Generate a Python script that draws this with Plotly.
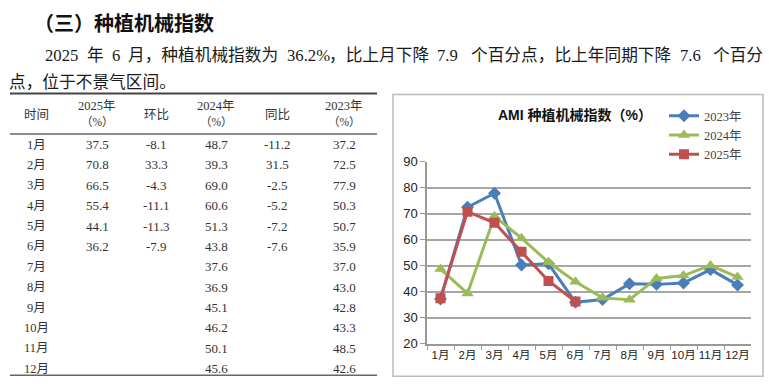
import plotly.graph_objects as go

# ---------------- data ----------------
months = ["1月", "2月", "3月", "4月", "5月", "6月", "7月", "8月", "9月", "10月", "11月", "12月"]
v2025 = [37.5, 70.8, 66.5, 55.4, 44.1, 36.2]
hb2025 = [-8.1, 33.3, -4.3, -11.1, -11.3, -7.9]
v2024 = [48.7, 39.3, 69.0, 60.6, 51.3, 43.8, 37.6, 36.9, 45.1, 46.2, 50.1, 45.6]
tb2025 = [-11.2, 31.5, -2.5, -5.2, -7.2, -7.6]
v2023 = [37.2, 72.5, 77.9, 50.3, 50.7, 35.9, 37.0, 43.0, 42.8, 43.3, 48.5, 42.6]
header_top = ["时间", "2025年", "环比", "2024年", "同比", "2023年"]
header_bot = ["", "（%）", "", "（%）", "", "（%）"]
heading = "（三）种植机械指数"
para_line1 = "2025 年 6 月，种植机械指数为 36.2%，比上月下降 7.9 个百分点，比上年同期下降 7.6 个百分"
para_line2 = "点，位于不景气区间。"
chart_title = "<b>AMI 种植机械指数（%）</b>"
series_names = ["2023年", "2024年", "2025年"]

# ---------------- layout helpers ----------------
W, H = 769, 391
def px(x):
    return x / W
def py(y):
    return 1 - y / H

TXT = "Liberation Serif, Noto Sans CJK SC"
CJK = "Noto Sans CJK SC"

fig = go.Figure()

colors = ["#4A7EBB", "#9BBB59", "#C0504D"]
symbols = ["diamond", "triangle-up", "square"]
sizes = [10, 11, 10]
for name, vals, c, s, sz in zip(series_names, [v2023, v2024, v2025], colors, symbols, sizes):
    fig.add_trace(go.Scatter(
        x=months[:len(vals)], y=vals, name=name, mode="lines+markers",
        line=dict(color=c, width=3), marker=dict(symbol=s, size=sz, color=c),
    ))

ann = []
def text(x, y, t, size, color="#222", family=TXT, xanchor="center"):
    ann.append(dict(x=px(x), y=py(y), xref="paper", yref="paper", text=t,
                    showarrow=False, xanchor=xanchor, yanchor="middle",
                    font=dict(size=size, color=color, family=family)))

def grid_line(s, x0, y, em, size):
    """Lay a line out on a fixed full/half-width grid (like a justified Song-style paragraph)."""
    x = x0
    run, run_x, run_ascii = "", x0, None
    def flush():
        if run:
            text(run_x - 2, y, run, size, "#1a1a1a", TXT, "left")
    for ch in s:
        is_ascii = ord(ch) < 128
        if ch == " " or (run and is_ascii != run_ascii):
            flush()
            run = ""
        if ch != " ":
            if not run:
                run_x, run_ascii = x, is_ascii
            run += ch
        x += em * (0.5 if is_ascii else 1.0)
    flush()

# heading and paragraph
text(32, 16, "<b>" + heading + "</b>", 20, "#111", CJK, "left")
grid_line(para_line1, 45, 50, 16.7, 16.7)
grid_line(para_line2, 9, 79, 16.7, 16.7)

# table
col_x = [36, 97, 156, 216, 277, 344]
for cx, t in zip(col_x, header_top):
    if t in ("时间", "环比", "同比"):
        text(cx, 112, t, 12.5, "#333")
    else:
        text(cx, 103, t, 12.5, "#333")
for cx, t in zip(col_x, header_bot):
    if t:
        text(cx, 120, t, 11.5, "#333")

def fmt(v):
    return f"{v:.1f}"

for i, m in enumerate(months):
    y = 143 + 21.2 * i
    text(col_x[0], y, m, 12.5, "#333")
    if i < len(v2025):
        text(col_x[1], y, fmt(v2025[i]), 13, "#333")
        text(col_x[2], y, fmt(hb2025[i]), 13, "#333")
        text(col_x[4], y, fmt(tb2025[i]), 13, "#333")
    text(col_x[3], y, fmt(v2024[i]), 13, "#333")
    text(col_x[5], y, fmt(v2023[i]), 13, "#333")

# chart title
text(575, 112, chart_title, 14, "#111", "Liberation Sans, Noto Sans CJK SC")

shapes = [
    dict(type="line", xref="paper", yref="paper", x0=px(10), x1=px(377), y0=py(90), y1=py(90),
         line=dict(color="#444", width=2)),
    dict(type="line", xref="paper", yref="paper", x0=px(10), x1=px(377), y0=py(132), y1=py(132),
         line=dict(color="#666", width=1.5)),
    dict(type="line", xref="paper", yref="paper", x0=px(10), x1=px(377), y0=py(383), y1=py(383),
         line=dict(color="#666", width=1.5)),
    dict(type="rect", xref="paper", yref="paper", x0=px(393), x1=px(763), y0=py(384), y1=py(91),
         line=dict(color="#bbbbbb", width=1.5)),
]

fig.update_layout(
    width=W, height=H, margin=dict(l=0, r=0, t=0, b=0),
    paper_bgcolor="white", plot_bgcolor="white",
    annotations=ann, shapes=shapes,
    showlegend=True,
    legend=dict(x=px(664), y=py(98), xanchor="left", yanchor="top",
                font=dict(size=12.5, color="#444", family=TXT),
                bgcolor="rgba(0,0,0,0)", itemwidth=30, tracegroupgap=0),
    xaxis=dict(domain=[px(427), px(751)], type="category", categoryorder="array",
               categoryarray=months, range=[-0.5, 11.5], showgrid=False,
               showline=True, linecolor="#999", linewidth=1.5,
               ticks="outside", tickson="boundaries", ticklen=5, tickcolor="#999",
               tickangle=0,
               tickfont=dict(size=11.5, color="#222", family="Liberation Sans, Noto Sans CJK SC")),
    yaxis=dict(domain=[py(350), py(161)], range=[20, 90], dtick=10,
               showgrid=True, gridcolor="#a6a6a6", gridwidth=1.5,
               showline=True, linecolor="#999", linewidth=1.5,
               ticks="outside", ticklen=5, tickcolor="#999", zeroline=False,
               tickfont=dict(size=13, color="#222", family="Liberation Sans")),
)

post = (
    "var d=document.getElementById('{plot_id}');"
    "document.documentElement.style.margin='0';"
    "document.body.style.margin='0';document.body.style.padding='0';"
    "if(d){d.style.position='fixed';d.style.left='0px';d.style.top='0px';}"
)
fig.write_html("out.html", config={"displayModeBar": False}, post_script=post)
